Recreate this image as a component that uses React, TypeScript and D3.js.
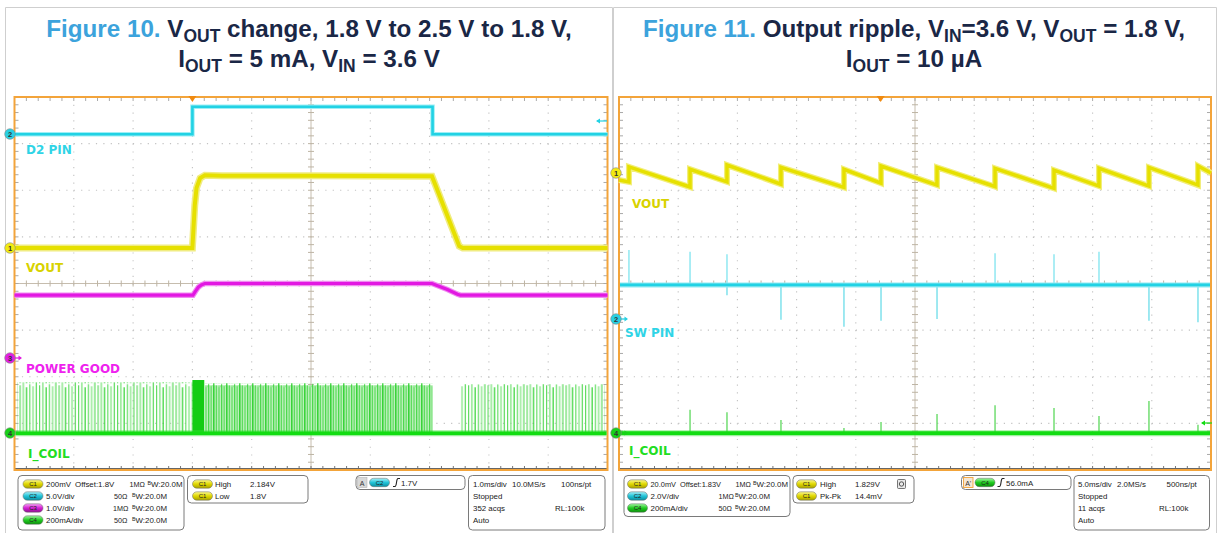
import React from 'react';
import * as d3 from 'd3';

// ================= DATA =================
// Figure 10 (left scope): time in ms, amplitude in screen divisions from the centre line
const fig10TimeDomain = [-5, 5];
const fig10D2Time = [-5, -2.0, -2.0, 2.05, 2.05, 5];
const fig10D2Div = [3.2, 3.2, 3.79, 3.79, 3.2, 3.2];
const fig10VoutTime = [-5, -2.0, -1.96, -1.93, -1.87, -1.79, -1.5, 0, 2.04, 2.5, 2.56, 5];
const fig10VoutDiv = [0.76, 0.76, 1.68, 2.05, 2.26, 2.32, 2.31, 2.31, 2.3, 0.8, 0.76, 0.76];
const fig10PgTime = [-5, -1.99, -1.95, -1.9, -1.85, -1.79, 2.04, 2.3, 2.47, 2.52, 5];
const fig10PgDiv = [-0.25, -0.25, -0.17, -0.08, -0.03, 0.0, 0.0, -0.13, -0.23, -0.25, -0.25];
const fig10CoilBaseDiv = -3.21;
const fig10CoilBurstStart = [-4.95, -2.0, -1.8, 2.52];
const fig10CoilBurstEnd = [-2.0, -1.8, 2.05, 4.95];
const fig10CoilBurstTop = [-2.12, -2.07, -2.14, -2.16];
const fig10CoilBurstKind = ['sparse', 'solid', 'dense', 'sparse'];

// Figure 11 (right scope): time in ms, amplitude in screen divisions
const fig11TimeDomain = [-25, 25];
const fig11RippleJumpTime = [-24.16, -19.0, -15.88, -11.32, -6.0, -2.87, 1.86, 6.76, 11.74, 15.54, 19.76, 23.9];
const fig11RippleLowDiv = [2.18, 2.07, 2.18, 2.13, 2.06, 2.15, 2.11, 2.08, 2.04, 2.09, 2.09, 2.11];
const fig11RippleHighDiv = [2.5, 2.45, 2.54, 2.49, 2.45, 2.52, 2.49, 2.47, 2.43, 2.47, 2.49, 2.52];
const fig11RippleStartDiv = 2.22;
const fig11RippleEndDiv = 2.37;
const fig11SwBaseDiv = -0.03;
const fig11SwUpTime = [-24.16, -19.0, -15.88, 6.76, 11.74, 15.54];
const fig11SwUpDiv = [0.72, 0.68, 0.63, 0.65, 0.63, 0.68];
const fig11SwDownTime = [-15.88, -11.32, -6.0, -2.87, 1.86, 19.76, 23.9];
const fig11SwDownDiv = [-0.25, -0.78, -0.93, -0.8, -0.76, -0.8, -0.83];
const fig11CoilBaseDiv = -3.21;
const fig11CoilSpikeTime = [-19.0, -15.88, -11.32, -6.0, -2.87, 1.86, 6.76, 11.74, 15.54, 19.76, 23.9];
const fig11CoilSpikeDiv = [-2.71, -2.76, -2.93, -3.1, -2.97, -2.8, -2.61, -2.67, -2.84, -2.52, -3.03];

// ================= STYLE =================
const FONT = '"Liberation Sans", Arial, sans-serif';
const LABEL_FONT = '"DejaVu Sans", Verdana, sans-serif';
const NAVY = '#1a2746';
const BLUE = '#3ca3dc';
const ORANGE = '#f3a43a';
const CYAN = '#22d2e4';
const YELLOW = '#e6e000';
const MAGENTA = '#e218e2';
const GREEN = '#12dc12';

const FRAME_Y0 = 97;
const FRAME_Y1 = 470;

const yScale = d3.scaleLinear().domain([-4, 4]).range([FRAME_Y1, FRAME_Y0]);

function Graticule({ x0, x1 }: { x0: number; x1: number }) {
  const y0 = FRAME_Y0, y1 = FRAME_Y1;
  const xd = d3.scaleLinear().domain([0, 10]).range([x0, x1]);
  const yd = d3.scaleLinear().domain([-4, 4]).range([y1, y0]);
  const els: any[] = [];
  els.push(<rect key="bg" x={x0} y={y0} width={x1 - x0} height={y1 - y0} fill="#fff" />);
  for (let i = 1; i < 10; i++) {
    if (i === 5) continue;
    els.push(<line key={'dv' + i} x1={xd(i)} x2={xd(i)} y1={y0} y2={y1} stroke="#c2c2c2" strokeWidth={1.1} strokeDasharray="1.2 6.57" />);
  }
  for (let j = -3; j <= 3; j++) {
    if (j === 0) continue;
    els.push(<line key={'dh' + j} x1={x0} x2={x1} y1={yd(j)} y2={yd(j)} stroke="#c2c2c2" strokeWidth={1.1} strokeDasharray="1.2 6.2" />);
  }
  const cx = xd(5), cy = yd(0);
  els.push(<line key="cx" x1={cx} x2={cx} y1={y0} y2={y1} stroke="#c6bdae" strokeWidth={1} />);
  els.push(<line key="cy" x1={x0} x2={x1} y1={cy} y2={cy} stroke="#c6bdae" strokeWidth={1} />);
  for (let k = 1; k < 50; k++) {
    const x = xd(k / 5);
    els.push(<line key={'tc' + k} x1={x} x2={x} y1={cy - 3} y2={cy + 3} stroke="#bdb4a4" strokeWidth={1} />);
    els.push(<line key={'tt' + k} x1={x} x2={x} y1={y0} y2={y0 + 4} stroke="#a9a9a9" strokeWidth={1} />);
    els.push(<line key={'tb' + k} x1={x} x2={x} y1={y1 - 4} y2={y1} stroke="#777" strokeWidth={1} />);
  }
  for (let k = 1; k < 48; k++) {
    const y = yd(-4 + k / 6);
    els.push(<line key={'vc' + k} x1={cx - 3} x2={cx + 3} y1={y} y2={y} stroke="#bdb4a4" strokeWidth={1} />);
    els.push(<line key={'vl' + k} x1={x0} x2={x0 + 4} y1={y} y2={y} stroke="#a9a9a9" strokeWidth={1} />);
    els.push(<line key={'vr' + k} x1={x1 - 4} x2={x1} y1={y} y2={y} stroke="#a9a9a9" strokeWidth={1} />);
  }
  els.push(<line key="bl" x1={x0} x2={x1} y1={y1 - 1.5} y2={y1 - 1.5} stroke="#666" strokeWidth={1} />);
  els.push(<rect key="fr" x={x0} y={y0} width={x1 - x0} height={y1 - y0} fill="none" stroke={ORANGE} strokeWidth={2} />);
  return <g>{els}</g>;
}

function ChMarker({ x, y, n, color, arrow }: { x: number; y: number; n: string; color: string; arrow?: boolean }) {
  return (
    <g>
      {arrow && (
        <g stroke={color} strokeWidth={1.3} fill={color}>
          <line x1={x + 4} x2={x + 11} y1={y} y2={y} />
          <path d={`M${x + 12},${y} L${x + 8.5},${y - 2.5} L${x + 8.5},${y + 2.5} Z`} stroke="none" />
        </g>
      )}
      <circle cx={x} cy={y} r={5.3} fill={color} stroke="#888" strokeWidth={0.6} />
      <text x={x} y={y + 2.6} fontSize={7.5} fontFamily={FONT} fontWeight="bold" textAnchor="middle" fill="#333">{n}</text>
    </g>
  );
}

function TrigArrow({ x, y, color }: { x: number; y: number; color: string }) {
  return (
    <g stroke={color} strokeWidth={1.2} fill={color}>
      <line x1={x} x2={x + 10} y1={y} y2={y} />
      <path d={`M${x - 1},${y} L${x + 3},${y - 2.6} L${x + 3},${y + 2.6} Z`} stroke="none" />
    </g>
  );
}

function TrigTriangle({ x }: { x: number }) {
  return <path d={`M${x - 4},${FRAME_Y0 - 1} L${x + 4},${FRAME_Y0 - 1} L${x},${FRAME_Y0 + 5} Z`} fill="#f08a10" />;
}

function TraceLabel({ x, y, text, color }: { x: number; y: number; text: string; color: string }) {
  return <text x={x} y={y} fontFamily={LABEL_FONT} fontWeight="bold" fontSize={12} fill={color}>{text}</text>;
}

function CoilPatterns({ id, top, base }: { id: string; top: number; base: number }) {
  const h = base - top;
  const sparseOff = [2, 0, 4, 1, 3, 0];
  const sparseCol = ['#62dc62', '#74e274', '#2ad22a', '#66de66', '#7ce47c', '#5ada5a'];
  const denseOff = [1, 3, 0, 2, 4];
  const denseCol = ['#4ed84e', '#6ee06e', '#22ce22', '#5edc5e', '#74e274'];
  return (
    <>
      <pattern id={`sp-${id}`} patternUnits="userSpaceOnUse" x={0} y={top} width={19.5} height={h}>
        {sparseOff.map((o, i) => (
          <rect key={i} x={i * 3.25} y={o} width={1.2} height={h - o} fill={sparseCol[i]} />
        ))}
      </pattern>
      <pattern id={`dp-${id}`} patternUnits="userSpaceOnUse" x={0} y={top} width={13} height={h}>
        <rect x={0} y={2} width={13} height={h - 2} fill="#98e898" />
        {denseOff.map((o, i) => (
          <rect key={i} x={i * 2.6 + 1.6} y={o} width={0.7} height={h - o} fill="#ffffff" opacity={0.5} />
        ))}
        {denseOff.map((o, i) => (
          <rect key={'l' + i} x={i * 2.6} y={o} width={1.2} height={h - o} fill={denseCol[i]} />
        ))}
      </pattern>
    </>
  );
}

function Fig10() {
  const x0 = 14.5, x1 = 607.5;
  const xs = d3.scaleLinear().domain(fig10TimeDomain).range([x0, x1]);
  const line = d3.line<[number, number]>().x(d => xs(d[0])).y(d => yScale(d[1]));
  const d2 = line(fig10D2Time.map((t, i) => [t, fig10D2Div[i]]))!;
  const vout = line(fig10VoutTime.map((t, i) => [t, fig10VoutDiv[i]]))!;
  const pg = line(fig10PgTime.map((t, i) => [t, fig10PgDiv[i]]))!;
  const base = yScale(fig10CoilBaseDiv);
  return (
    <g>
      <defs>
        <CoilPatterns id="f10" top={yScale(-2.14)} base={base} />
      </defs>
      <Graticule x0={x0} x1={x1} />
      {fig10CoilBurstStart.map((s, i) => {
        const kind = fig10CoilBurstKind[i];
        const yt = yScale(fig10CoilBurstTop[i]);
        const fill = kind === 'solid' ? '#14cc14' : kind === 'dense' ? 'url(#dp-f10)' : 'url(#sp-f10)';
        return <rect key={i} x={xs(s)} y={yt} width={xs(fig10CoilBurstEnd[i]) - xs(s)} height={base - yt} fill={fill} />;
      })}
      <line x1={x0 + 1} x2={x1 - 1} y1={base} y2={base} stroke="#38e038" strokeWidth={6} opacity={0.5} />
      <line x1={x0 + 1} x2={x1 - 1} y1={base} y2={base} stroke={GREEN} strokeWidth={3.5} />
      <path d={d2} fill="none" stroke="#9defF6" strokeWidth={4.5} />
      <path d={d2} fill="none" stroke={CYAN} strokeWidth={2.6} />
      <path d={vout} fill="none" stroke="#f0ec80" strokeWidth={7} />
      <path d={vout} fill="none" stroke={YELLOW} strokeWidth={4} />
      <path d={pg} fill="none" stroke="#f08cf0" strokeWidth={5.5} />
      <path d={pg} fill="none" stroke={MAGENTA} strokeWidth={3.2} />
      <TraceLabel x={26} y={154} text="D2 PIN" color="#2fd4e6" />
      <TraceLabel x={26} y={272} text="VOUT" color="#d8d200" />
      <TraceLabel x={26} y={373} text="POWER GOOD" color="#ee22ee" />
      <TraceLabel x={28} y={458} text="I_COIL" color="#22dd22" />
      <TrigTriangle x={xs(-2.0)} />
      <TrigArrow x={597} y={121} color={CYAN} />
      <ChMarker x={10} y={134} n="2" color="#28d0e2" />
      <ChMarker x={10} y={248} n="1" color="#f2ea10" />
      <ChMarker x={10} y={358} n="3" color="#e020e0" arrow />
      <ChMarker x={10} y={433} n="4" color="#18d018" />
    </g>
  );
}

function Fig11() {
  const x0 = 619, x1 = 1211;
  const xs = d3.scaleLinear().domain(fig11TimeDomain).range([x0, x1]);
  const line = d3.line<[number, number]>().x(d => xs(d[0])).y(d => yScale(d[1]));
  const pts: [number, number][] = [[fig11TimeDomain[0], fig11RippleStartDiv]];
  fig11RippleJumpTime.forEach((t, i) => {
    pts.push([t, fig11RippleLowDiv[i]]);
    pts.push([t, fig11RippleHighDiv[i]]);
  });
  pts.push([fig11TimeDomain[1], fig11RippleEndDiv]);
  const ripple = line(pts)!;
  const swBase = yScale(fig11SwBaseDiv);
  const coilBase = yScale(fig11CoilBaseDiv);
  return (
    <g>
      <Graticule x0={x0} x1={x1} />
      {fig11SwUpTime.map((t, i) => (
        <line key={'su' + i} x1={xs(t)} x2={xs(t)} y1={swBase} y2={yScale(fig11SwUpDiv[i])} stroke="#7fe4ef" strokeWidth={1.3} />
      ))}
      {fig11SwDownTime.map((t, i) => (
        <line key={'sd' + i} x1={xs(t)} x2={xs(t)} y1={swBase} y2={yScale(fig11SwDownDiv[i])} stroke="#6cdde9" strokeWidth={1.3} />
      ))}
      <line x1={x0 + 1} x2={x1 - 1} y1={swBase} y2={swBase} stroke="#8fe9f2" strokeWidth={5} />
      <line x1={x0 + 1} x2={x1 - 1} y1={swBase} y2={swBase} stroke={CYAN} strokeWidth={2.6} />
      {fig11CoilSpikeTime.map((t, i) => (
        <line key={'cs' + i} x1={xs(t)} x2={xs(t)} y1={coilBase} y2={yScale(fig11CoilSpikeDiv[i])} stroke="#5cd85c" strokeWidth={1.3} />
      ))}
      <line x1={x0 + 1} x2={x1 - 1} y1={coilBase} y2={coilBase} stroke="#44e044" strokeWidth={6} opacity={0.5} />
      <line x1={x0 + 1} x2={x1 - 1} y1={coilBase} y2={coilBase} stroke={GREEN} strokeWidth={3.6} />
      <path d={ripple} fill="none" stroke="#f2ee7a" strokeWidth={6} />
      <path d={ripple} fill="none" stroke={YELLOW} strokeWidth={3.5} />
      <TraceLabel x={632} y={208} text="VOUT" color="#d8d200" />
      <TraceLabel x={625} y={337} text="SW PIN" color="#2fd4e6" />
      <TraceLabel x={629} y={455} text="I_COIL" color="#22dd22" />
      <TrigTriangle x={xs(-2.9)} />
      <TrigArrow x={1202} y={423} color={GREEN} />
      <ChMarker x={616} y={173} n="1" color="#f2ea10" />
      <ChMarker x={616} y={319} n="2" color="#28d0e2" arrow />
      <ChMarker x={616} y={433} n="4" color="#18d018" arrow />
    </g>
  );
}

// ============ info panel helpers ============
const PILL_GRAD: Record<string, [string, string, string]> = {
  C1: ['#fbf790', '#e0d800', '#a8a000'],
  C2: ['#a8f0f8', '#22c4d8', '#0a8ea0'],
  C3: ['#f8a0f8', '#d420d4', '#901090'],
  C4: ['#a0f8a0', '#22cc22', '#0a900a'],
};

function Pill({ x, y, ch }: { x: number; y: number; ch: string }) {
  return (
    <g>
      <rect x={x} y={y - 4.2} width={20} height={8.4} rx={4.2} fill={`url(#pg-${ch})`} stroke="#6a6a6a" strokeWidth={0.5} />
      <text x={x + 10} y={y + 2.2} fontSize={6} fontFamily={FONT} textAnchor="middle" fill="#222">{ch}</text>
    </g>
  );
}

const INFO_FS = 7.9;

function T({ x, y, s, fs }: { x: number; y: number; s: string; fs?: number }) {
  return <text x={x} y={y + 3} fontSize={fs ?? INFO_FS} fontFamily={FONT} fill="#1a1a1a">{s}</text>;
}

function BW({ x, y }: { x: number; y: number }) {
  return (
    <text x={x} y={y + 3} fontSize={INFO_FS} fontFamily={FONT} fill="#1a1a1a">
      <tspan fontSize={5.3} dy={-2.5}>B</tspan>
      <tspan dy={2.5}>W:20.0M</tspan>
    </text>
  );
}

function Box({ x, y, w, h }: { x: number; y: number; w: number; h: number }) {
  return <rect x={x} y={y} width={w} height={h} rx={4} fill="#fff" stroke="#7a7a7a" strokeWidth={1} />;
}

function Edge({ x, y }: { x: number; y: number }) {
  return <path d={`M${x},${y + 4} L${x + 2},${y + 4} Q${x + 3},${y + 4} ${x + 3.5},${y} Q${x + 4},${y - 4} ${x + 5},${y - 4} L${x + 7},${y - 4}`} fill="none" stroke="#222" strokeWidth={1.1} />;
}

const R = [484, 496, 508, 520];
const OHM_FS = 7.2;

function Info10() {
  return (
    <g>
      <Box x={18} y={475.5} w={166} h={54.5} />
      <Pill x={23} y={R[0]} ch="C1" /><T x={46} y={R[0]} s="200mV" /><T x={75} y={R[0]} s="Offset:1.8V" /><T x={129.5} y={R[0]} s="1MΩ" fs={OHM_FS} /><BW x={147.5} y={R[0]} />
      <Pill x={23} y={R[1]} ch="C2" /><T x={46} y={R[1]} s="5.0V/div" /><T x={114} y={R[1]} s="50Ω" fs={OHM_FS} /><BW x={132} y={R[1]} />
      <Pill x={23} y={R[2]} ch="C3" /><T x={46} y={R[2]} s="1.0V/div" /><T x={113} y={R[2]} s="1MΩ" fs={OHM_FS} /><BW x={132} y={R[2]} />
      <Pill x={23} y={R[3]} ch="C4" /><T x={46} y={R[3]} s="200mA/div" /><T x={114} y={R[3]} s="50Ω" fs={OHM_FS} /><BW x={132} y={R[3]} />

      <Box x={187.5} y={475.5} w={120.5} h={27.5} />
      <Pill x={192.5} y={R[0]} ch="C1" /><T x={215} y={R[0]} s="High" /><T x={250} y={R[0]} s="2.184V" />
      <Pill x={192.5} y={R[1]} ch="C1" /><T x={215} y={R[1]} s="Low" /><T x={250} y={R[1]} s="1.8V" />

      <Box x={356} y={475.5} w={109} h={14} />
      <rect x={357.5} y={477.5} width={9.5} height={10} fill="#d8d8d8" stroke="#aaa" strokeWidth={0.5} />
      <text x={362.2} y={485.5} fontSize={7} fontFamily={FONT} textAnchor="middle" fill="#333">A</text>
      <Pill x={369.5} y={482.5} ch="C2" />
      <Edge x={393} y={482.5} />
      <T x={401} y={482.5} s="1.7V" />

      <Box x={468.5} y={475.5} w={136.5} h={54.5} />
      <T x={473} y={R[0]} s="1.0ms/div" /><T x={512} y={R[0]} s="10.0MS/s" /><T x={561} y={R[0]} s="100ns/pt" />
      <T x={473} y={R[1]} s="Stopped" />
      <T x={473} y={R[2]} s="352 acqs" /><T x={555} y={R[2]} s="RL:100k" />
      <T x={473} y={R[3]} s="Auto" />
    </g>
  );
}

function Info11() {
  return (
    <g>
      <Box x={624} y={475.5} w={166} h={41} />
      <Pill x={627.5} y={R[0]} ch="C1" /><T x={650.5} y={R[0]} s="20.0mV" fs={7.4} /><T x={680} y={R[0]} s="Offset:1.83V" fs={7.4} /><T x={735.5} y={R[0]} s="1MΩ" fs={OHM_FS} /><BW x={753} y={R[0]} />
      <Pill x={627.5} y={R[1]} ch="C2" /><T x={650.5} y={R[1]} s="2.0V/div" /><T x={718.5} y={R[1]} s="1MΩ" fs={OHM_FS} /><BW x={735} y={R[1]} />
      <Pill x={627.5} y={R[2]} ch="C4" /><T x={650.5} y={R[2]} s="200mA/div" /><T x={718.5} y={R[2]} s="50Ω" fs={OHM_FS} /><BW x={735} y={R[2]} />

      <Box x={793} y={475.5} w={121} h={27.5} />
      <Pill x={796.5} y={R[0]} ch="C1" /><T x={820} y={R[0]} s="High" /><T x={855} y={R[0]} s="1.829V" />
      <rect x={897.5} y={479.5} width={8} height={9} rx={1} fill="#e8e8e8" stroke="#555" strokeWidth={0.8} />
      <circle cx={901.5} cy={484} r={2.2} fill="none" stroke="#444" strokeWidth={0.9} />
      <Pill x={796.5} y={R[1]} ch="C1" /><T x={820} y={R[1]} s="Pk-Pk" /><T x={855} y={R[1]} s="14.4mV" />

      <Box x={961.5} y={475.5} w={109.5} h={14} />
      <rect x={963.5} y={477.5} width={9.5} height={10} fill="#f4e6d4" stroke={ORANGE} strokeWidth={0.9} />
      <text x={968.2} y={485.5} fontSize={7} fontFamily={FONT} textAnchor="middle" fill="#333">A'</text>
      <Pill x={975} y={482.5} ch="C4" />
      <Edge x={997.5} y={482.5} />
      <T x={1006} y={482.5} s="56.0mA" />

      <Box x={1074} y={475.5} w={135.5} h={54.5} />
      <T x={1078} y={R[0]} s="5.0ms/div" /><T x={1117} y={R[0]} s="2.0MS/s" /><T x={1166.5} y={R[0]} s="500ns/pt" />
      <T x={1078} y={R[1]} s="Stopped" />
      <T x={1078} y={R[2]} s="11 acqs" /><T x={1159} y={R[2]} s="RL:100k" />
      <T x={1078} y={R[3]} s="Auto" />
    </g>
  );
}

function Title({ cx, lines }: { cx: number; lines: React.ReactNode[] }) {
  const ys = [37, 67];
  return (
    <g fontFamily={FONT} fontWeight="bold" fontSize={24.2} fill={NAVY}>
      {lines.map((l, i) => (
        <text key={i} x={cx} y={ys[i]} textAnchor="middle">{l}</text>
      ))}
    </g>
  );
}

const SUB = 17.5;
const SD = 4.5;

export default function App() {
  return (
    <div style={{ position: 'absolute', left: 0, top: 0 }}>
      <svg width={1222} height={533} viewBox="0 0 1222 533" style={{ display: 'block', background: '#fff' }}>
        <defs>
          {Object.keys(PILL_GRAD).map(k => (
            <linearGradient key={k} id={`pg-${k}`} x1="0" y1="0" x2="0" y2="1">
              <stop offset="0" stopColor={PILL_GRAD[k][0]} />
              <stop offset="0.5" stopColor={PILL_GRAD[k][1]} />
              <stop offset="1" stopColor={PILL_GRAD[k][2]} />
            </linearGradient>
          ))}
        </defs>
        <rect x={0} y={0} width={1222} height={533} fill="#fff" />
        <path d="M5.5,540 L5.5,7.5 L612.5,7.5 L612.5,540" fill="none" stroke="#cfcfcf" strokeWidth={1} />
        <path d="M613.5,540 L613.5,7.5 L1216.5,7.5 L1216.5,540" fill="none" stroke="#cfcfcf" strokeWidth={1} />
        <Title
          cx={309}
          lines={[
            <>
              <tspan fill={BLUE}>Figure 10. </tspan>
              <tspan>V</tspan>
              <tspan fontSize={SUB} dy={SD}>OUT</tspan>
              <tspan dy={-SD}> change, 1.8 V to 2.5 V to 1.8 V,</tspan>
            </>,
            <>
              <tspan>I</tspan>
              <tspan fontSize={SUB} dy={SD}>OUT</tspan>
              <tspan dy={-SD}> = 5 mA, V</tspan>
              <tspan fontSize={SUB} dy={SD}>IN</tspan>
              <tspan dy={-SD}> = 3.6 V</tspan>
            </>,
          ]}
        />
        <Title
          cx={914}
          lines={[
            <>
              <tspan fill={BLUE}>Figure 11. </tspan>
              <tspan>Output ripple, V</tspan>
              <tspan fontSize={SUB} dy={SD}>IN</tspan>
              <tspan dy={-SD}>=3.6 V, V</tspan>
              <tspan fontSize={SUB} dy={SD}>OUT</tspan>
              <tspan dy={-SD}> = 1.8 V,</tspan>
            </>,
            <>
              <tspan>I</tspan>
              <tspan fontSize={SUB} dy={SD}>OUT</tspan>
              <tspan dy={-SD}> = 10 µA</tspan>
            </>,
          ]}
        />
        <Fig10 />
        <Fig11 />
        <Info10 />
        <Info11 />
      </svg>
    </div>
  );
}
